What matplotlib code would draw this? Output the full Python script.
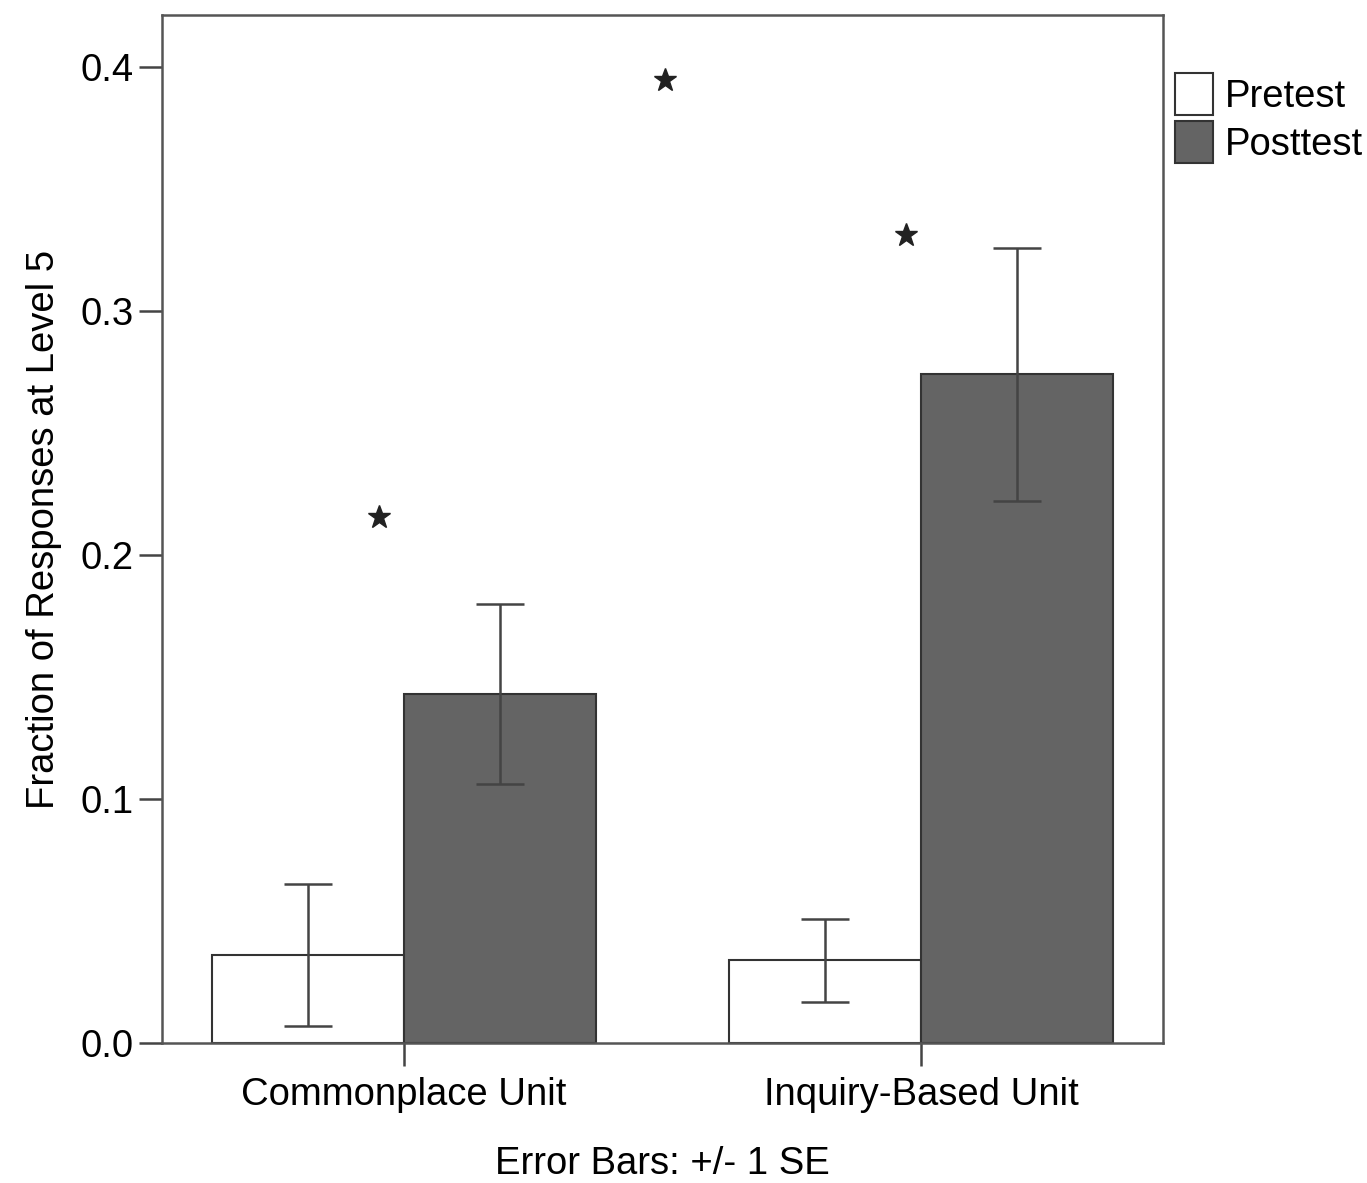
import numpy as np
import matplotlib.pyplot as plt

plt.rcParams['font.family'] = ['Liberation Sans', 'DejaVu Sans']

categories = ['Commonplace Unit', 'Inquiry-Based Unit']
pretest = [0.036, 0.034]
pretest_se = [0.029, 0.017]
posttest = [0.143, 0.274]
posttest_se = [0.037, 0.052]

# significance stars (x in category units, y in data units)
star_x = [-0.048, 0.97, 0.505]
star_y = [0.2156, 0.331, 0.3947]

fig = plt.figure(figsize=(13.67, 11.83), dpi=100)
ax = fig.add_axes([0.1185, 0.1183, 0.7323, 0.869])

x = np.arange(len(categories))
w = 0.372
err_kw = dict(ecolor='#444444', elinewidth=1.8, capsize=17, capthick=1.8)
ax.bar(x - w / 2, pretest, w, yerr=pretest_se, color='white', edgecolor='#333333',
       linewidth=1.5, error_kw=err_kw, label='Pretest')
ax.bar(x + w / 2, posttest, w, yerr=posttest_se, color='#646464', edgecolor='#333333',
       linewidth=1.5, error_kw=err_kw, label='Posttest')

for sx, sy in zip(star_x, star_y):
    ax.plot(sx, sy, marker='*', color='#222222', markersize=17, linestyle='none')

ax.set_xlim(-0.468, 1.468)
ax.set_ylim(0, 0.4213)
ax.set_xticks(x)
ax.set_xticklabels(categories, fontsize=27.5)
ax.set_yticks([0.0, 0.1, 0.2, 0.3, 0.4])
ax.set_yticklabels(['0.0', '0.1', '0.2', '0.3', '0.4'], fontsize=27.5)
ax.tick_params(axis='both', length=16.5, width=1.8, color='#444444', direction='out')
ax.tick_params(axis='y', pad=4)
ax.tick_params(axis='x', pad=8)
ax.set_ylabel('Fraction of Responses at Level 5', fontsize=27.5, labelpad=13)
ax.set_xlabel('Error Bars: +/- 1 SE', fontsize=27.5, labelpad=24)
for s in ax.spines.values():
    s.set_color('#555555')
    s.set_linewidth(1.8)

leg = fig.legend(loc='upper left', bbox_to_anchor=(0.8595, 0.938), frameon=False,
                 fontsize=27.5, handlelength=1.0, handleheight=1.32,
                 handletextpad=0.3, labelspacing=0.14, borderpad=0, borderaxespad=0)

fig.savefig('out.png', dpi=100)
